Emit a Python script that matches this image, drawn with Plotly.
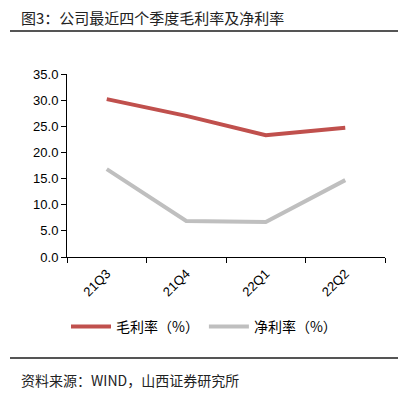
import plotly.graph_objects as go

quarters = ["21Q3", "21Q4", "22Q1", "22Q2"]
gross_margin = [30.2, 27.0, 23.3, 24.7]
net_margin = [16.8, 6.9, 6.7, 14.7]
y_ticks = [0, 5, 10, 15, 20, 25, 30, 35]

OFF = 8  # page body margin
W, H = 406 - OFF, 398 - OFF
# plot area in screen px: x 67..385, y 74..257
L, T = 67 - OFF, 74 - OFF
R = W - (385 - OFF)
B = H - (257 - OFF)

fig = go.Figure()
fig.add_trace(go.Scatter(x=quarters, y=gross_margin, mode="lines", name="毛利率（%）",
                         line=dict(color="#C0504D", width=4)))
fig.add_trace(go.Scatter(x=quarters, y=net_margin, mode="lines", name="净利率（%）",
                         line=dict(color="#BFBFBF", width=4)))


def yp(py):
    return (H - B - (py - OFF)) / (H - T - B)


def xp(px):
    return ((px - OFF) - L) / (W - L - R)


font_cjk = "Noto Sans CJK SC, sans-serif"
fig.update_layout(
    width=W, height=H,
    margin=dict(l=L, r=R, t=T, b=B),
    paper_bgcolor="white", plot_bgcolor="white",
    font=dict(family="Liberation Sans, Arial, sans-serif", size=13, color="#000"),
    showlegend=True,
    legend=dict(orientation="h", x=xp(204), xanchor="center", y=yp(327), yanchor="middle",
                font=dict(family=font_cjk, size=14), itemwidth=40, tracegroupgap=0),
    xaxis=dict(type="category", tickson="boundaries", ticks="outside", ticklen=5,
               showline=True, linecolor="black", linewidth=1, tickcolor="black",
               tickangle=-45, showgrid=False, tickfont=dict(size=13), ticklabelstandoff=3,
               range=[-0.5, 3.5]),
    yaxis=dict(range=[0, 35], tickvals=y_ticks, tickformat=".1f", ticks="outside", ticklen=5,
               showline=True, linecolor="black", linewidth=1, tickcolor="black",
               showgrid=False, zeroline=False, tickfont=dict(size=13)),
)

fig.add_annotation(text="图3：公司最近四个季度毛利率及净利率", xref="paper", yref="paper",
                   x=xp(19), y=yp(17), xanchor="left", yanchor="middle",
                   showarrow=False, font=dict(family=font_cjk, size=15, color="#222"))
fig.add_annotation(text="资料来源：WIND，山西证券研究所", xref="paper", yref="paper",
                   x=xp(19), y=yp(380), xanchor="left", yanchor="middle",
                   showarrow=False, font=dict(family=font_cjk, size=14, color="#222"))

fig.add_shape(type="line", xref="paper", yref="paper", x0=xp(10), x1=xp(406), y0=yp(31), y1=yp(31),
              line=dict(color="#555", width=2))
fig.add_shape(type="line", xref="paper", yref="paper", x0=xp(10), x1=xp(406), y0=yp(358), y1=yp(358),
              line=dict(color="#555", width=2))

fig.write_html("out.html")
